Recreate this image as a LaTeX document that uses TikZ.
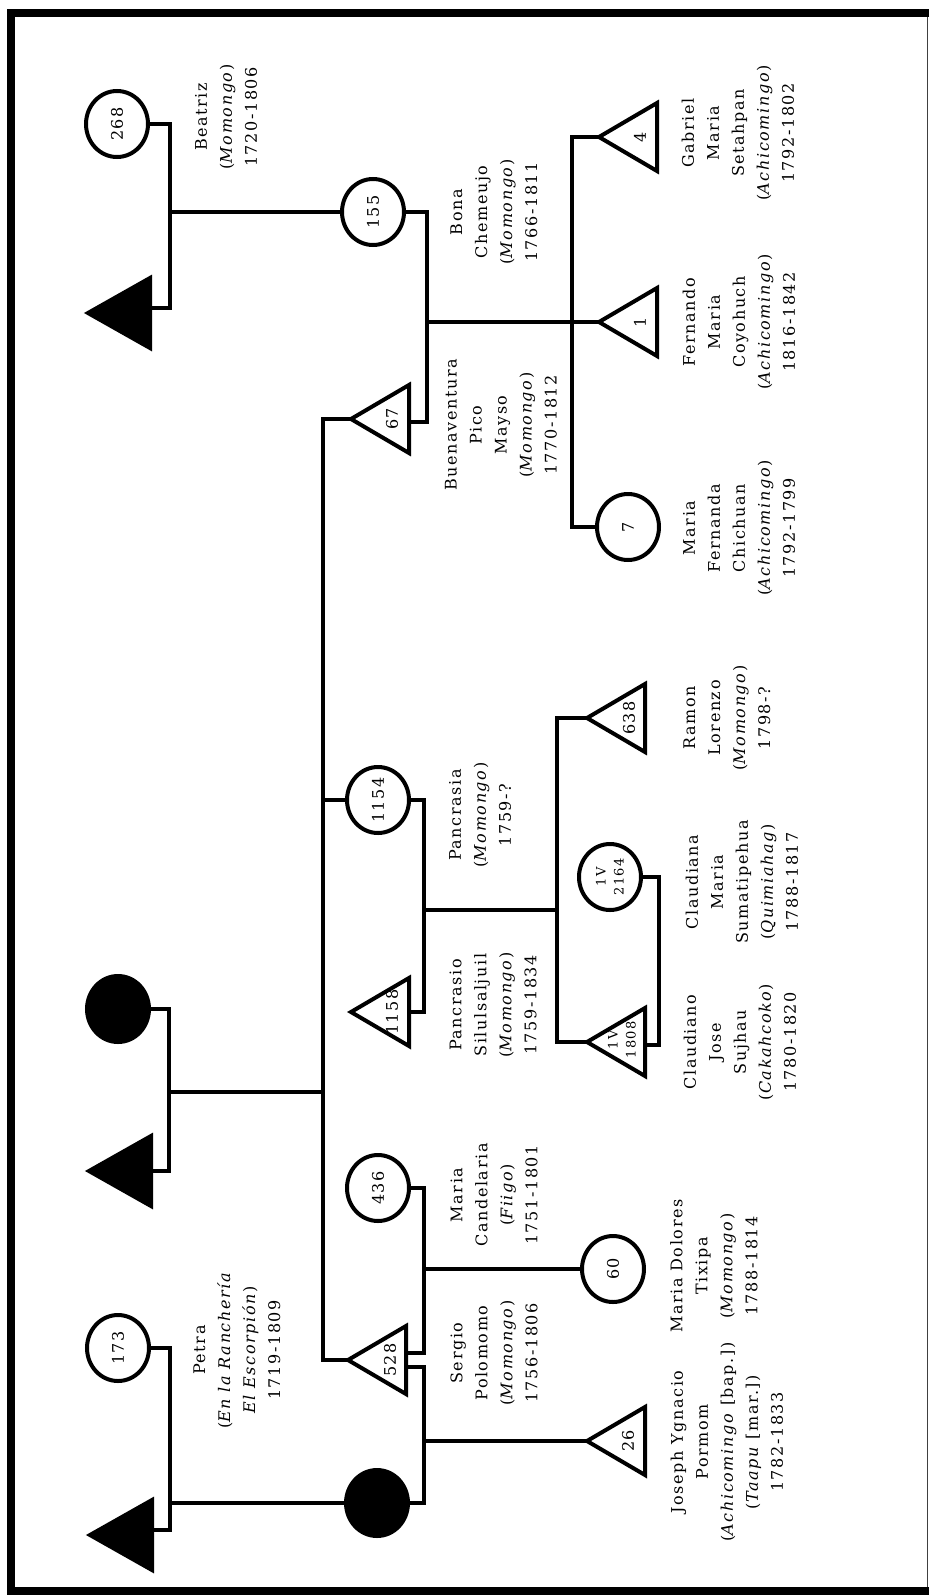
\documentclass[tikz,border=0pt]{standalone}
\usepackage{fontspec}
\usepackage{graphicx}
\usetikzlibrary{shapes.geometric,calc}
\newfontfamily\labfont[LetterSpace=10]{DejaVu Serif}
\begin{document}
\begin{tikzpicture}[x=1pt,y=-1pt,
  line/.style={line width=4pt, line join=miter},
  person/.style={ellipse, draw, line width=4pt, fill=white, minimum width=62pt, minimum height=66pt, inner sep=0pt},
  dead/.style={person, fill=black},
  num/.style={rotate=90, font=\labfont\fontsize{16}{20}\selectfont, inner sep=0pt, align=center},
  smallnum/.style={rotate=90, font=\labfont\fontsize{13}{18}\selectfont, inner sep=0pt, align=center},
  lab/.style={rotate=90, font=\labfont\fontsize{16}{25}\selectfont, inner sep=0pt, align=center},
  pics/male/.style={code={
    \draw[line width=4pt, line join=miter, fill=white] (0,0) -- (58,-34) -- (58,34) -- cycle;
    \coordinate (-apex) at (0,0);
    \coordinate (-base) at (58,0);}},
  pics/maleblack/.style={code={
    \draw[line width=4pt, line join=miter, fill=black] (0,0) -- (62,-35) -- (62,35) -- cycle;
    \coordinate (-apex) at (0,0);
    \coordinate (-base) at (62,0);}}
]
% page and frame
\fill[white] (0,0) rectangle (929,1595);
\useasboundingbox (0,0) rectangle (929,1595);
\draw[line width=8pt, line join=miter] (929,13) -| (11,1591) -- (929,1591);
\draw[line width=1.5pt, black!75] (927.5,17) -- (927.5,1587);

% women (circles) and unknown ancestors
\node[person] (p268) at (117,124) {};
\node[person] (p155) at (373,212) {};
\node[person] (p7) at (628,527) {};
\node[person] (p1154) at (378,800) {};
\node[person] (p2164) at (610,877) {};
\node[person] (p436) at (378,1188) {};
\node[person] (p60) at (613,1269) {};
\node[person] (p173) at (118,1348) {};
\node[dead] (fc1) at (118,1009) {};
\node[dead] (fc2) at (377,1503) {};

% men (triangles), placed by their apex
\pic (t4) at (599,137) {male};
\pic (t1) at (599,322) {male};
\pic (t67) at (351,419) {male};
\pic (t638) at (587,718) {male};
\pic (t1158) at (351,1012) {male};
\pic (t1808) at (587,1042) {male};
\pic (t26) at (587,1441) {male};
\pic (t528) at (348,1360) {male};
\pic (ft1) at (88,313) {maleblack};
\pic (ft2) at (89,1171) {maleblack};
\pic (ft3) at (90,1535) {maleblack};

% identification numbers
\node[num] (n268) at (p268) {268};
\node[num] (n155) at (p155) {155};
\node[num] (n7) at (p7) {7};
\node[num] (n1154) at (p1154) {1154};
\node[smallnum] (n2164) at (p2164) {1V\\2164};
\node[num] (n436) at (p436) {436};
\node[num] (n60) at (p60) {60};
\node[num] (n173) at (p173) {173};
\node[num] (n4) at (640,137) {4};
\node[num] (n1) at (640,322) {1};
\node[num] (n67) at (392,419) {67};
\node[num] (n638) at (629,718) {638};
\node[num] (n1158) at (392,1012) {1158};
\node[smallnum] (n1808) at (622,1040) {1V\\1808};
\node[num] (n26) at (628,1441) {26};
\node[num] (n528) at (390,1360) {528};

% marriage and descent lines
\coordinate (m268) at (170,212);
\draw[line] (p268.east) -| (m268) |- ($(ft1-base)+(0,-5)$);
\draw[line] (m268) -- (p155.west);

\coordinate (m155) at (427,322);
\draw[line] (p155.east) -| (m155) |- ($(t67-base)+(0,3)$);
\coordinate (s155) at (572,322);
\draw[line] (m155) -- (t1-apex);
\draw[line] (t4-apex) -| (s155) |- (p7.west);

\coordinate (sib) at (323,1092);
\draw[line] (t67-apex) -| (sib) |- (t528-apex);
\draw[line] (sib |- p1154) -- (p1154.west);
\coordinate (mfc1) at (169,1092);
\draw[line] (fc1.east) -| (mfc1) |- (ft2-base);
\draw[line] (mfc1) -- (sib);

\coordinate (m1154) at (424,910);
\draw[line] (p1154.east) -| (m1154) |- (t1158-base);
\coordinate (s1154) at (557,910);
\draw[line] (m1154) -- (s1154);
\draw[line] (t638-apex) -| (s1154) |- (t1808-apex);
\draw[line] (p2164.east) -- ++(16,0) |- ($(t1808-base)+(0,3)$);

\coordinate (m436) at (424,1269);
\draw[line] (p436.east) -| (m436) |- ($(t528-base)+(0,-7)$);
\draw[line] (m436) -- (p60.west);

\coordinate (m528) at (424,1441);
\draw[line] ($(t528-base)+(0,7)$) -| (m528) |- (fc2.east);
\draw[line] (m528) -- (t26-apex);

\coordinate (m173) at (170,1503);
\draw[line] (p173.east) -| (m173) |- ($(ft3-base)+(0,-5)$);
\draw[line] (m173) -- (fc2.west);

% names, origins and dates
\node[lab] (l268) at (226,117) {Beatriz\\(\textit{Momongo})\\1720-1806};
\node[lab] (l155) at (494,212) {Bona\\Chemeujo\\(\textit{Momongo})\\1766-1811};
\node[lab] (l4) at (738,133) {Gabriel\\Maria\\Setahpan\\(\textit{Achicomingo})\\1792-1802};
\node[lab] (l1) at (739,322) {Fernando\\Maria\\Coyohuch\\(\textit{Achicomingo})\\1816-1842};
\node[lab] (l67) at (501,425) {Buenaventura\\Pico\\Mayso\\(\textit{Momongo})\\1770-1812};
\node[lab] (l7) at (739,528) {Maria\\Fernanda\\Chichuan\\(\textit{Achicomingo})\\1792-1799};
\node[lab] (l638) at (727,718) {Ramon\\Lorenzo\\(\textit{Momongo})\\1798-?};
\node[lab] (l1154) at (480,815) {Pancrasia\\(\textit{Momongo})\\1759-?};
\node[lab] (l2164) at (742,882) {Claudiana\\Maria\\Sumatipehua\\(\textit{Quimiahag})\\1788-1817};
\node[lab] (l1808) at (740,1042) {Claudiano\\Jose\\Sujhau\\(\textit{Cakahcoko})\\1780-1820};
\node[lab] (l1158) at (493,1005) {Pancrasio\\Silulsaljuil\\(\textit{Momongo})\\1759-1834};
\node[lab] (l436) at (494,1195) {Maria\\Candelaria\\(\textit{Fiigo})\\1751-1801};
\node[lab] (l60) at (714,1266) {Maria Dolores\\Tixipa\\(\textit{Momongo})\\1788-1814};
\node[lab] (l528) at (494,1353) {Sergio\\Polomomo\\(\textit{Momongo})\\1756-1806};
\node[lab] (l26) at (727,1442) {Joseph Ygnacio\\Pormom\\(\textit{Achicomingo} [bap.])\\(\textit{Taapu} [mar.])\\1782-1833};
\node[lab] (l173) at (237,1350) {Petra\\(\textit{En la Ranchería}\\\textit{El Escorpión})\\1719-1809};
\end{tikzpicture}
\end{document}
